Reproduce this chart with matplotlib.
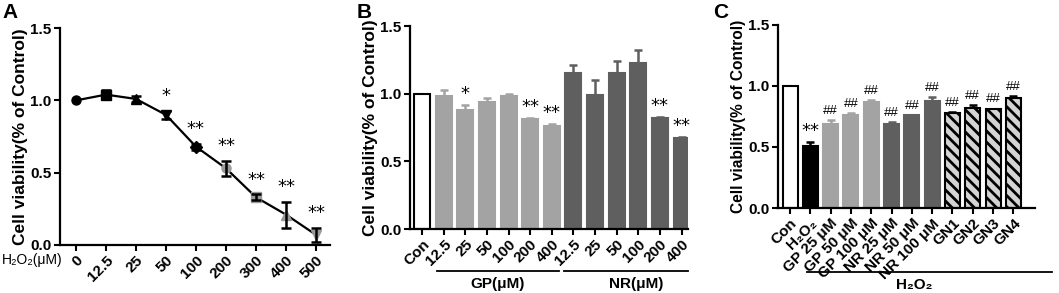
import numpy as np
import matplotlib; matplotlib.use('Agg')
import matplotlib.pyplot as plt

plt.rcParams['font.family'] = ['Liberation Sans', 'DejaVu Sans']
plt.rcParams['font.weight'] = 'bold'
plt.rcParams['axes.labelweight'] = 'bold'
plt.rcParams['hatch.linewidth'] = 2.0

# Panel A: H2O2 dose response
A_labels = ['0', '12.5', '25', '50', '100', '200', '300', '400', '500']
A_mean = [1.00, 1.04, 1.01, 0.90, 0.68, 0.53, 0.33, 0.21, 0.07]
A_err = [0.0, 0.03, 0.02, 0.03, 0.02, 0.05, 0.02, 0.09, 0.05]
A_sig = ['', '', '', '*', '**', '**', '**', '**', '**']

# Panel B: GP / NR alone
B_labels = ['Con', '12.5', '25', '50', '100', '200', '400',
            '12.5', '25', '50', '100', '200', '400']
B_mean = [1.00, 0.98, 0.88, 0.94, 0.98, 0.81, 0.76,
          1.15, 0.99, 1.15, 1.23, 0.82, 0.67]
B_err = [0.0, 0.05, 0.04, 0.03, 0.02, 0.01, 0.02,
         0.06, 0.11, 0.09, 0.09, 0.005, 0.01]
B_sig = ['', '', '*', '', '', '**', '**', '', '', '', '', '**', '**']
B_group = ['con'] + ['gp'] * 6 + ['nr'] * 6

# Panel C: protection against H2O2
C_labels = ['Con', 'H₂O₂', 'GP 25 μM', 'GP 50 μM', 'GP 100 μM',
            'NR 25 μM', 'NR 50 μM', 'NR 100 μM', 'GN1', 'GN2', 'GN3', 'GN4']
C_mean = [1.00, 0.51, 0.69, 0.76, 0.87, 0.69, 0.76, 0.88, 0.78, 0.82, 0.81, 0.90]
C_err = [0.0, 0.03, 0.03, 0.02, 0.015, 0.015, 0.005, 0.03, 0.005, 0.02, 0.005, 0.02]
C_sig = ['', '**', '##', '##', '##', '##', '##', '##', '##', '##', '##', '##']
C_group = ['con', 'h2o2'] + ['gp'] * 3 + ['nr'] * 3 + ['gn'] * 4

FILL = {'con': 'white', 'h2o2': 'black', 'gp': '#a3a3a3', 'nr': '#5f5f5f', 'gn': '#d4d4d4'}
ERRC = {'con': 'black', 'h2o2': 'black', 'gp': '#a3a3a3', 'nr': '#5f5f5f', 'gn': 'black'}

fig = plt.figure(figsize=(10.59, 2.93), dpi=100)
axA = fig.add_axes([0.0567, 0.164, 0.255, 0.740])
axB = fig.add_axes([0.3872, 0.218, 0.2625, 0.693])
axC = fig.add_axes([0.7347, 0.290, 0.2427, 0.625])

FS = 11
STAR = dict(fontsize=13, fontweight='normal', family=['DejaVu Sans'])


def style(ax, lab_fs=12.5):
    for s in ['top', 'right']:
        ax.spines[s].set_visible(False)
    for s in ['left', 'bottom']:
        ax.spines[s].set_linewidth(1.6)
    ax.tick_params(direction='out', length=4, width=1.5, labelsize=FS, pad=2)
    ax.set_ylim(0, 1.5)
    ax.set_yticks([0, 0.5, 1.0, 1.5])
    ax.set_yticklabels(['0.0', '0.5', '1.0', '1.5'], fontweight='bold')
    ax.set_ylabel('Cell viability(% of Control)', fontsize=lab_fs, labelpad=2)


# ---- A
x = np.arange(len(A_labels))
axA.plot(x, A_mean, color='black', lw=1.6, zorder=2)
markers = ['o', 's', '^', 'v', 'D', 'o', 's', '^', 'v']
mcols = ['black'] * 5 + ['#9a9a9a'] * 4
for xi, m, e, mk, mc in zip(x, A_mean, A_err, markers, mcols):
    axA.plot(xi, m, marker=mk, color=mc, ms=6.5, zorder=3)
    if e > 0:
        axA.errorbar(xi, m, yerr=e, color='black', capsize=3.5, elinewidth=1.8,
                     capthick=1.8, fmt='none', zorder=4)
for xi, m, e, s in zip(x, A_mean, A_err, A_sig):
    if s:
        axA.text(xi, m + e + 0.04, s, ha='center', va='bottom', **STAR)
style(axA)
axA.set_xlim(-0.53, 8.47)
axA.set_xticks(x)
axA.set_xticklabels(A_labels, rotation=45, ha='right', rotation_mode='anchor',
                    fontweight='bold')
fig.text(0.002, 0.113, 'H₂O₂(μM)', ha='left', va='center', fontsize=10,
         fontweight='normal')
fig.text(0.002, 0.99, 'A', fontsize=15, fontweight='bold', va='top')

# ---- B
x = np.arange(len(B_labels))
for xi, m, e, g, s in zip(x, B_mean, B_err, B_group, B_sig):
    axB.bar(xi, m, 0.74, color=FILL[g], edgecolor='black' if g == 'con' else FILL[g],
            lw=1.5, zorder=2)
    if e > 0:
        axB.errorbar(xi, m, yerr=[[0], [e]], color=ERRC[g], capsize=3, elinewidth=1.8,
                     capthick=1.8, fmt='none', zorder=1)
    if s:
        axB.text(xi, m + e + 0.015, s, ha='center', va='bottom', **STAR)
style(axB)
axB.set_xlim(-0.56, 12.3)
axB.set_xticks(x)
axB.set_xticklabels(B_labels, rotation=45, ha='right', rotation_mode='anchor',
                    fontweight='bold')
yl = -0.207
axB.plot([0.7, 6.35], [yl, yl], transform=axB.get_xaxis_transform(), color='black',
         lw=1.3, clip_on=False)
axB.plot([6.55, 12.3], [yl, yl], transform=axB.get_xaxis_transform(), color='black',
         lw=1.3, clip_on=False)
axB.text(3.5, -0.272, 'GP(μM)', transform=axB.get_xaxis_transform(), ha='center',
         va='center', fontsize=FS)
axB.text(9.9, -0.272, 'NR(μM)', transform=axB.get_xaxis_transform(), ha='center',
         va='center', fontsize=FS)
fig.text(0.337, 0.99, 'B', fontsize=15, fontweight='bold', va='top')

# ---- C
x = np.arange(len(C_labels))
for xi, m, e, g, s in zip(x, C_mean, C_err, C_group, C_sig):
    ec = FILL[g] if g in ('gp', 'nr') else 'black'
    axC.bar(xi, m, 0.74, color=FILL[g], edgecolor=ec, lw=1.5,
            hatch='\\\\\\' if g == 'gn' else None, zorder=2)
    if e > 0:
        axC.errorbar(xi, m, yerr=[[0], [e]], color=ERRC[g], capsize=3, elinewidth=1.8,
                     capthick=1.8, fmt='none', zorder=1)
    if s == '**':
        axC.text(xi, m + e + 0.015, s, ha='center', va='bottom', **STAR)
    elif s:
        axC.text(xi, m + e + 0.025, s, ha='center', va='bottom', fontsize=9.5,
                 fontweight='normal')
style(axC, lab_fs=11.2)
axC.set_xlim(-0.59, 12.07)
axC.set_xticks(x)
axC.set_xticklabels(C_labels, rotation=45, ha='right', rotation_mode='anchor',
                    fontweight='bold')
yl = -0.35
axC.plot([0.85, 12.9], [yl, yl], transform=axC.get_xaxis_transform(), color='black',
         lw=1.3, clip_on=False)
axC.text(6.1, -0.42, 'H₂O₂', transform=axC.get_xaxis_transform(), ha='center',
         va='center', fontsize=FS)
fig.text(0.673, 0.99, 'C', fontsize=15, fontweight='bold', va='top')

fig.savefig('out.png', dpi=100)
